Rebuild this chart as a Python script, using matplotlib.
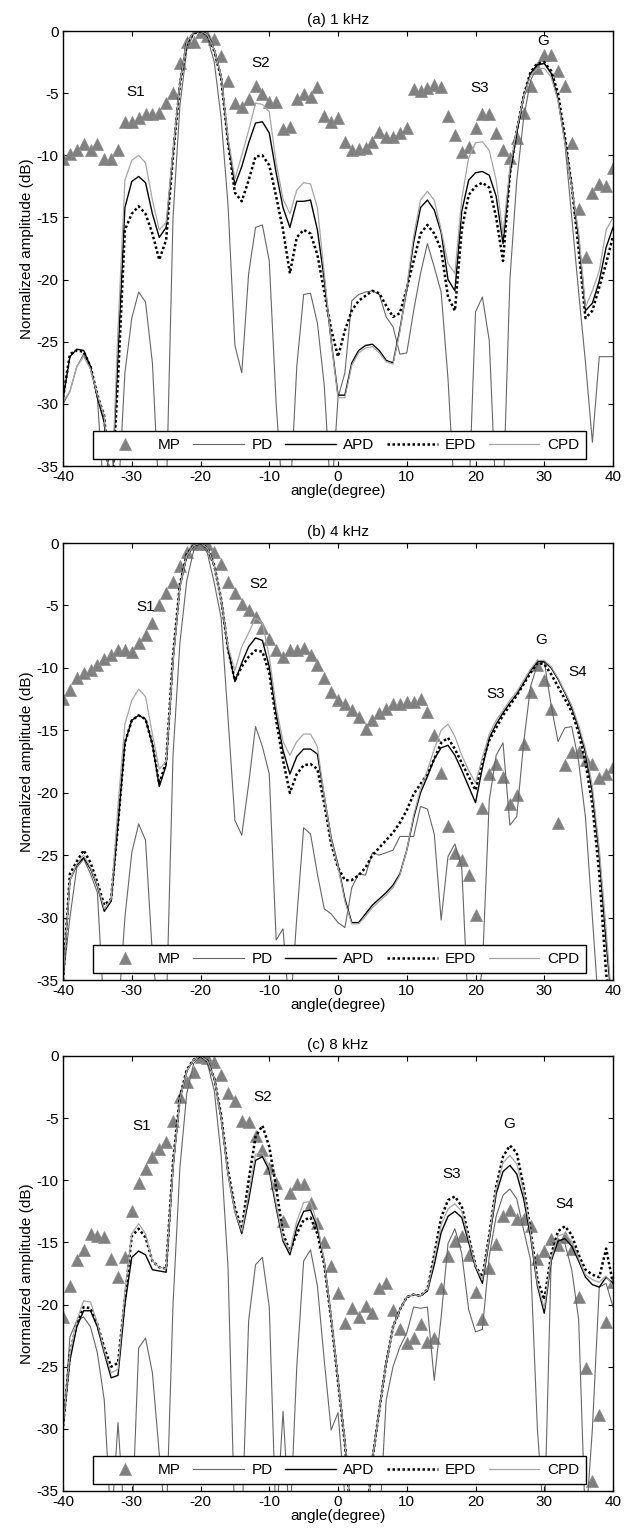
import matplotlib
matplotlib.use("Agg")
import matplotlib.pyplot as plt

plt.rcParams['font.family'] = ['Liberation Sans', 'DejaVu Sans']
plt.rcParams['font.size'] = 11
plt.rcParams['axes.unicode_minus'] = False

angle = list(range(-40, 41))

# ---- (a) 1 kHz ----
mp_1k = [-10.3, -9.9, -9.6, -9.1, -9.6, -9.1, -10.3, -10.3, -9.6, -7.3,
         -7.3, -7.0, -6.7, -6.7, -6.6, -5.8, -5.0, -2.6, -0.9, -0.9,
         -0.1, -0.4, -0.6, -2.0, -4.0, -5.8, -6.1, -5.5, -4.4, -5.1,
         -5.7, -5.7, -7.9, -7.7, -5.5, -5.1, -5.3, -4.5, -6.8, -7.3,
         -7.0, -8.9, -9.6, -9.5, -9.4, -8.9, -8.1, -8.5, -8.5, -8.2,
         -7.8, -4.7, -4.8, -4.6, -4.3, -4.5, -6.8, -8.4, -9.7, -9.3,
         -7.8, -6.7, -6.7, -8.2, -9.6, -10.2, -8.6, -6.6, -4.4, -3.0,
         -1.9, -1.9, -3.2, -4.4, -9.0, -14.3, -18.2, -13.0, -12.3, -12.5,
         -11.0]
pd_1k = [-30.0, -29.0, -27.0, -26.0, -27.0, -29.5, -38, -38, -38, -27.5,
         -23.1, -21.0, -21.8, -26.7, -38, -38, -15.0, -6.0, -1.5, -0.2,
         0.0, -0.5, -2.5, -7.0, -14.0, -25.3, -27.5, -19.5, -15.8, -15.6,
         -18.5, -30.0, -38, -38, -27.0, -21.2, -21.1, -23.5, -28.5, -38,
         -29.5, -27.5, -21.7, -21.2, -21.0, -20.9, -21.2, -23.0, -23.8, -26.0,
         -25.9, -22.5, -19.5, -17.1, -19.0, -21.0, -28.0, -38, -38, -38,
         -22.6, -21.4, -24.9, -38, -38, -20.0, -12.0, -7.0, -4.0, -2.8,
         -2.6, -3.4, -5.5, -9.0, -15.0, -21.0, -26.7, -33.1, -26.2, -26.2,
         -26.2]
apd_1k = [-29.6, -26.2, -25.6, -25.7, -27.0, -29.5, -31.5, -38, -26.0, -14.2,
          -12.1, -11.7, -12.2, -14.7, -16.6, -15.8, -9.8, -4.2, -0.9, -0.1,
          0.0, -0.3, -1.5, -3.6, -8.8, -12.4, -10.9, -9.0, -7.4, -7.3,
          -8.2, -11.4, -14.2, -15.8, -13.7, -13.7, -13.6, -16.0, -20.0, -24.9,
          -29.3, -29.3, -26.7, -25.7, -25.3, -25.2, -25.7, -26.5, -26.7, -24.0,
          -20.8, -17.0, -14.2, -13.6, -14.4, -16.2, -20.0, -20.9, -14.5, -12.0,
          -11.4, -11.3, -11.6, -13.3, -17.1, -11.5, -8.2, -5.3, -3.4, -2.7,
          -2.6, -3.4, -5.5, -8.8, -12.5, -16.6, -22.5, -21.9, -20.1, -17.4,
          -15.8]
epd_1k = [-29.5, -26.0, -25.7, -25.8, -27.0, -29.3, -31.0, -38, -28.0, -16.0,
          -14.7, -14.1, -14.7, -16.3, -18.4, -16.8, -10.0, -4.3, -1.0, -0.2,
          0.0, -0.3, -1.6, -3.8, -9.0, -13.0, -13.7, -12.0, -10.1, -10.0,
          -10.8, -13.3, -16.0, -19.5, -16.6, -16.0, -16.3, -18.0, -21.0, -24.0,
          -26.2, -24.1, -22.5, -21.7, -21.3, -20.9, -21.1, -22.1, -23.0, -22.7,
          -20.7, -18.5, -16.3, -15.6, -16.3, -17.6, -21.4, -22.5, -16.0, -13.2,
          -12.5, -12.2, -12.6, -15.0, -18.5, -11.5, -8.0, -5.2, -3.3, -2.6,
          -2.5, -3.2, -5.0, -8.5, -12.5, -17.6, -23.1, -22.5, -20.6, -18.7,
          -16.5]
cpd_1k = [-29.8, -29.0, -27.0, -26.2, -27.2, -29.3, -31.0, -38, -24.0, -12.0,
          -10.4, -10.0, -10.6, -13.6, -16.0, -15.4, -9.6, -4.2, -0.9, -0.1,
          0.0, -0.3, -1.5, -3.6, -8.6, -11.9, -10.0, -8.0, -5.8, -5.9,
          -6.5, -10.6, -13.5, -14.7, -12.8, -12.2, -12.3, -14.2, -19.5, -25.0,
          -29.5, -29.5, -26.9, -25.9, -25.5, -25.4, -25.9, -26.6, -26.8, -24.2,
          -20.6, -16.5, -13.6, -12.9, -13.6, -16.0, -18.7, -19.5, -13.5, -10.2,
          -9.0, -8.9, -9.6, -12.0, -16.3, -11.0, -7.9, -5.3, -3.6, -3.0,
          -3.0, -3.7, -5.6, -9.0, -12.6, -16.2, -22.2, -20.9, -19.3, -16.0,
          -15.0]
tags_1k = [("S1", -29.5, -4.9), ("S2", -11.2, -2.6), ("S3", 20.6, -4.6), ("G", 29.8, -0.8)]

# ---- (b) 4 kHz ----
mp_4k = [-12.5, -11.8, -10.8, -10.4, -10.2, -9.8, -9.3, -9.0, -8.6, -8.6,
         -8.7, -8.0, -7.4, -6.4, -5.0, -4.0, -3.1, -1.8, -0.7, -0.1,
         -0.05, -0.1, -0.7, -1.7, -3.1, -4.0, -4.9, -5.4, -5.9, -6.8,
         -7.7, -8.6, -9.1, -8.6, -8.6, -8.4, -9.0, -9.8, -10.8, -11.9,
         -12.6, -12.9, -13.4, -13.9, -14.9, -14.2, -13.6, -13.3, -12.9, -12.9,
         -12.7, -12.7, -12.5, -13.5, -15.4, -18.4, -22.7, -24.8, -25.4, -26.6,
         -29.8, -21.2, -18.5, -17.7, -18.7, -20.9, -20.2, -16.1, -11.9, -9.8,
         -11.0, -13.3, -22.4, -17.8, -16.7, -16.7, -17.4, -17.7, -18.8, -18.5,
         -17.9]
pd_4k = [-35.0, -30.0, -26.0, -25.3, -26.5, -28.0, -38, -38, -38, -30.0,
         -24.8, -22.5, -23.8, -33.0, -38, -38, -17.0, -8.0, -3.0, -0.6,
         0.0, -0.8, -3.2, -6.0, -14.0, -22.2, -23.4, -19.3, -14.7, -16.3,
         -18.5, -31.8, -30.9, -38, -30.0, -22.8, -23.3, -26.5, -29.3, -29.7,
         -30.4, -30.8, -27.6, -26.5, -26.6, -24.8, -25.0, -24.8, -24.6, -23.5,
         -23.5, -23.5, -21.1, -21.3, -23.3, -30.2, -25.1, -24.1, -26.0, -38,
         -38, -34.0, -20.6, -17.0, -16.0, -22.6, -21.9, -16.0, -11.5, -9.7,
         -9.5, -13.0, -15.9, -14.8, -14.7, -17.5, -22.0, -30.0, -38, -38,
         -38]
apd_4k = [-35.0, -27.0, -25.8, -25.2, -26.1, -27.5, -29.5, -28.7, -22.5, -16.0,
          -14.2, -13.8, -14.1, -16.1, -19.5, -17.8, -9.5, -3.5, -1.0, -0.2,
          0.0, -0.4, -1.8, -4.5, -8.5, -11.1, -9.6, -8.3, -7.6, -7.8,
          -9.9, -13.7, -16.6, -18.5, -17.1, -16.5, -16.5, -16.9, -20.3, -23.6,
          -25.8, -28.5, -30.4, -30.4, -29.7, -29.0, -28.5, -28.0, -27.4, -26.5,
          -24.6, -22.0, -20.0, -18.7, -17.3, -16.4, -16.2, -17.0, -18.2, -19.5,
          -20.8, -18.0, -15.6, -14.5, -13.6, -12.8, -12.1, -11.2, -10.2, -9.5,
          -9.5, -10.0, -10.9, -12.0, -13.2, -14.8, -16.8, -20.0, -25.0, -32.0,
          -38]
epd_4k = [-35.0, -26.5, -25.5, -24.6, -25.6, -27.2, -29.0, -28.5, -22.5, -16.0,
          -14.2, -13.8, -14.1, -16.1, -19.3, -17.5, -9.0, -3.3, -0.9, -0.2,
          0.0, -0.4, -1.8, -4.5, -8.5, -11.0, -9.9, -9.1, -8.6, -8.7,
          -10.4, -14.2, -17.4, -20.0, -18.5, -17.8, -17.7, -18.1, -20.9, -24.1,
          -26.0, -27.0, -27.0, -26.6, -26.0, -25.0, -24.4, -23.8, -23.2, -22.4,
          -21.4, -20.1, -19.3, -18.5, -17.3, -16.0, -15.6, -16.5, -17.6, -18.7,
          -19.8, -17.5, -15.8, -14.8, -13.8, -13.0, -12.2, -11.3, -10.4, -9.6,
          -9.7, -10.5, -11.5, -12.5, -13.5, -15.2, -17.6, -21.0, -26.5, -34.5,
          -38]
cpd_4k = [-35.0, -27.0, -25.7, -25.0, -26.0, -27.4, -29.3, -28.5, -21.0, -14.5,
          -12.6, -11.7, -12.3, -15.3, -18.1, -17.5, -9.5, -3.5, -1.0, -0.2,
          0.0, -0.4, -1.8, -4.5, -8.3, -10.2, -8.3, -7.2, -6.0, -6.4,
          -9.1, -13.1, -15.9, -17.0, -15.9, -15.3, -15.3, -16.3, -20.3, -23.7,
          -25.9, -28.7, -30.5, -30.5, -29.9, -29.2, -28.7, -28.2, -27.6, -26.6,
          -24.6, -21.8, -19.7, -18.2, -16.5, -15.0, -14.5, -15.5, -17.0, -18.2,
          -19.2, -17.2, -15.3, -14.2, -13.4, -12.6, -11.9, -11.0, -10.1, -9.4,
          -9.4, -9.9, -10.8, -11.9, -13.0, -14.6, -16.5, -19.5, -24.5, -31.0,
          -38]
tags_4k = [("S1", -28.0, -5.1), ("S2", -11.5, -3.3), ("S3", 22.9, -12.1),
           ("G", 29.6, -7.8), ("S4", 34.8, -10.3)]

# ---- (c) 8 kHz ----
mp_8k = [-21.0, -18.5, -16.4, -15.6, -14.3, -14.5, -14.6, -16.3, -17.8, -16.2,
         -12.5, -10.2, -9.1, -8.1, -7.5, -6.9, -5.2, -3.3, -2.1, -1.3,
         -0.05, -0.2, -0.5, -1.5, -3.0, -3.6, -5.2, -5.3, -6.4, -7.6,
         -9.0, -10.2, -13.3, -11.0, -10.3, -10.3, -11.8, -13.4, -15.0, -16.9,
         -19.1, -21.5, -20.3, -21.0, -20.1, -20.7, -18.7, -18.3, -20.4, -22.0,
         -23.1, -22.7, -21.6, -23.0, -22.7, -18.7, -16.1, -14.9, -14.5, -16.0,
         -19.0, -21.2, -17.1, -15.1, -12.9, -12.4, -13.1, -13.1, -13.7, -16.3,
         -15.7, -14.7, -15.2, -14.6, -15.5, -19.4, -25.1, -34.2, -28.9, -21.4,
         -18.2]
pd_8k = [-30.3, -22.6, -21.3, -21.0, -21.8, -23.9, -27.7, -38, -29.5, -38,
         -38, -23.5, -22.7, -25.5, -32.0, -38, -20.0, -9.0, -3.0, -0.6,
         0.0, -0.6, -2.8, -8.0, -17.0, -38, -38, -21.3, -16.8, -16.2,
         -20.2, -38, -28.6, -38, -25.0, -16.5, -15.6, -18.5, -24.5, -30.1,
         -28.7, -35.5, -38, -38, -38, -38, -38, -27.7, -25.0, -23.4,
         -22.3, -20.2, -20.3, -20.2, -26.1, -21.0, -15.1, -13.9, -15.9, -20.4,
         -22.2, -22.0, -16.1, -12.9, -11.2, -10.7, -11.5, -14.0, -16.4, -30.0,
         -38, -16.5, -14.7, -15.1, -17.2, -21.2, -38, -30.0, -18.6, -18.3,
         -20.2]
apd_8k = [-29.8, -24.5, -21.8, -20.5, -20.5, -21.8, -23.9, -25.9, -25.7, -20.0,
          -16.2, -15.7, -16.0, -17.2, -17.3, -17.4, -9.0, -3.5, -1.2, -0.3,
          0.0, -0.4, -1.8, -5.0, -9.5, -12.5, -14.3, -11.6, -8.4, -8.1,
          -9.2, -12.2, -14.9, -16.0, -13.8, -12.5, -12.4, -13.8, -16.5, -21.0,
          -26.0, -31.0, -38, -38, -38, -32.5, -28.5, -24.7, -21.8, -20.4,
          -19.4, -19.2, -19.3, -18.9, -16.8, -14.2, -12.9, -12.5, -13.0, -15.0,
          -17.0, -18.3, -14.8, -11.1, -9.3, -8.8, -9.5, -11.5, -14.5, -18.5,
          -20.7, -16.5, -14.9, -14.7, -15.3, -16.5, -17.8, -18.4, -18.6, -17.8,
          -18.3]
epd_8k = [-29.8, -24.0, -21.5, -20.2, -20.3, -21.6, -23.5, -25.0, -24.7, -19.5,
          -14.5, -13.9, -14.6, -16.5, -17.0, -17.1, -8.5, -3.3, -1.1, -0.3,
          0.0, -0.4, -1.8, -4.8, -9.2, -12.2, -13.9, -10.0, -6.5, -5.6,
          -7.3, -10.6, -14.3, -15.7, -14.3, -13.2, -13.0, -14.3, -16.8, -21.2,
          -26.2, -31.2, -38, -38, -38, -32.5, -28.5, -24.7, -21.8, -20.4,
          -19.4, -19.2, -19.3, -18.8, -16.0, -13.0, -11.6, -11.3, -12.1, -14.5,
          -16.9, -17.8, -14.4, -10.5, -8.1, -7.2, -7.8, -10.5, -14.0, -18.0,
          -19.6, -16.0, -14.1, -13.7, -14.4, -16.0, -17.2, -17.6, -17.8, -15.5,
          -18.3]
cpd_8k = [-29.8, -24.0, -21.3, -19.7, -19.8, -21.5, -23.7, -25.5, -25.2, -19.0,
          -14.3, -13.5, -14.3, -16.5, -17.0, -17.1, -9.0, -3.5, -1.2, -0.3,
          0.0, -0.4, -1.8, -5.0, -9.5, -12.5, -14.1, -11.1, -7.9, -7.8,
          -8.9, -11.9, -14.7, -15.7, -13.3, -11.8, -11.7, -13.5, -16.5, -21.0,
          -26.0, -31.0, -38, -38, -38, -32.5, -28.5, -24.7, -21.8, -20.4,
          -19.4, -19.2, -19.3, -18.8, -16.3, -13.6, -12.3, -11.9, -12.5, -14.7,
          -16.9, -18.0, -14.6, -10.7, -8.6, -8.0, -8.7, -10.9, -14.2, -18.3,
          -20.3, -16.3, -14.5, -14.3, -14.9, -16.3, -17.6, -18.0, -18.2, -17.7,
          -18.5]
tags_8k = [("S1", -28.6, -5.6), ("S2", -11.0, -3.3), ("S3", 16.5, -9.5),
           ("G", 24.9, -5.5), ("S4", 33.0, -11.9)]

panels = [
    ("(a) 1 kHz", mp_1k, pd_1k, apd_1k, epd_1k, cpd_1k, tags_1k),
    ("(b) 4 kHz", mp_4k, pd_4k, apd_4k, epd_4k, cpd_4k, tags_4k),
    ("(c) 8 kHz", mp_8k, pd_8k, apd_8k, epd_8k, cpd_8k, tags_8k),
]
# axes boxes in figure fraction (left, bottom, width, height)
boxes = [(0.101, 0.697, 0.8814, 0.2828),
         (0.101, 0.3628, 0.8814, 0.2841),
         (0.101, 0.0306, 0.8814, 0.2828)]

fig = plt.figure(figsize=(6.24, 15.38), dpi=100)

for (title, mp, pd, apd, epd, cpd, tags), box in zip(panels, boxes):
    ax = fig.add_axes(box)
    ax.plot(angle, mp, ls='none', marker='^', ms=8.5, color='#808080',
            mec='#8a8a8a', mew=0.5, label='MP')
    ax.plot(angle, pd, color='#666666', lw=0.8, label='PD')
    ax.plot(angle, apd, color='black', lw=1.0, label='APD')
    ax.plot(angle, epd, color='black', lw=1.8, dashes=(1, 1), label='EPD')
    ax.plot(angle, cpd, color='#a6a6a6', lw=0.9, label='CPD')

    for s, tx, ty in tags:
        ax.text(tx, ty, s, ha='center', va='center', fontsize=11)

    ax.set_xlim(-40, 40)
    ax.set_ylim(-35, 0)
    ax.set_xticks(range(-40, 41, 10))
    ax.set_yticks(range(-35, 1, 5))
    ax.tick_params(direction='in', top=True, right=True, length=3.5,
                   width=0.8, labelsize=11, pad=3)
    for sp in ax.spines.values():
        sp.set_linewidth(1.0)
    ax.set_title(title, fontsize=11, pad=5)
    ax.set_xlabel('angle(degree)', fontsize=11, labelpad=0)
    ax.set_ylabel('Normalized amplitude (dB)', fontsize=11, labelpad=2)

    leg = ax.legend(ncol=5, mode='expand', loc='lower left',
                    bbox_to_anchor=(0.0545, 0.016, 0.8965, 0.069),
                    borderaxespad=0, fancybox=False, edgecolor='black',
                    framealpha=1, numpoints=1, handlelength=3.3,
                    handletextpad=0.5, columnspacing=0.4, borderpad=0.45,
                    fontsize=11)
    leg.get_frame().set_linewidth(1.0)

fig.savefig('out.png', dpi=100)
